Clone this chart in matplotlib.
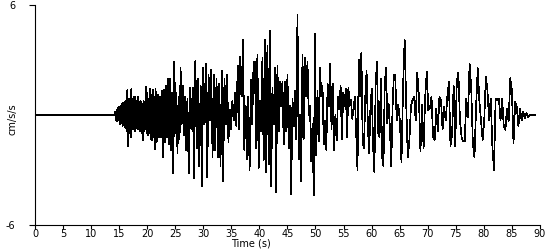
import matplotlib
matplotlib.use("Agg")
import matplotlib.pyplot as plt
import numpy as np

# accelerogram, stored as peak values per time window
quiet = (0.0, 14.3)

seg1a_span = (14.3, 21.5)
seg1a = [0.2, -0.3, 0.3, -0.35, 0.4, -0.3, 0.45, -0.5, 0.5, -0.45,
         0.6, -0.6, 0.65, -0.55, 0.7, -0.7, 0.8, -0.9, 1.35, -1.7,
         0.9, -1.0, 0.8, -1.2, 1.45, -0.8, 0.9, -0.8, 1.0, -0.9,
         1.0, -0.7, 0.8, -0.8, 1.0, -0.75, 0.7, -0.9, 0.75, -1.0,
         0.6, -1.35, 0.8, -0.9, 0.7, -0.8, 1.55, -1.0, 1.2, -1.1,
         0.9, -1.0, 1.45, -1.3, 1.1, -1.4, 1.4, -1.2, 1.0, -1.85]

seg1b_span = (21.5, 26.7)
seg1b = [1.45, -1.5, 1.1, -1.2, 1.0, -1.2, 1.3, -2.3, 1.4, -1.5,
         1.6, -1.2, 2.0, -1.6, 2.0, -1.9, 1.2, -3.2, 2.9, -1.0,
         1.2, -2.1, 1.0, -1.3, 2.55, -0.5, 1.6, -1.1]

seg2_span = (26.7, 39.2)
seg2 = [1.0, -1.9, 0.9, -3.2, 1.5, -0.8, 1.5, -3.45, 2.96, -1.8,
        2.0, -2.8, 1.6, -3.9, 2.6, -0.5, 2.8, -3.4, 2.2, -0.3,
        2.45, -2.3, 2.2, -1.9, 2.0, -2.3, 1.7, -2.8, 2.4, -3.6,
        2.0, -0.5, 2.2, -1.5, 0.3, -0.8, 0.8, -0.3, 1.2, -0.6,
        2.7, -0.8, 3.2, 1.0, 4.1, -1.9, 0.5, -2.4, 1.0, -3.0,
        1.9, -0.5, 2.9]

seg3_span = (39.2, 51.7)
seg3 = [2.9, -1.8, 3.3, -2.9, 0.8, -0.9, 3.1, -2.45, 4.1, -3.1,
        3.8, -2.7, 4.6, -3.9, 1.5, -0.5, 2.55, -4.2, 2.7, -0.9,
        1.8, 0.5, 1.8, -1.6, 1.8, -0.9, 2.2, -1.8, 0.5, -4.3,
        0.9, -0.6, 1.3, -1.3, 5.45, -2.4, 0.0, -3.6, 3.3, -1.3,
        3.1, 1.0, 2.9, 0.0, 0.5, -2.5, -0.5, -4.4, 4.45, -2.2,
        1.3, -1.45, 2.55, 1.0, 1.6, -1.6]

seg4_span = (51.7, 64.2)
seg4 = [-0.3, -1.9, 1.7, 0.5, 2.8, -0.8, 1.7, -1.9, 0.0, -1.4,
        1.0, 0.3, 1.6, -1.3, 1.2, 0.5, 1.45, -1.2, 1.5, 0.5,
        0.8, -0.2, 0.4, 1.0, -1.0, -3.0, 3.0, 1.0, 3.4, -1.5,
        -1.8, 1.0, 2.4, -0.6, -2.1, 0.5, 1.45, -1.7, -3.1, 1.7,
        2.9, -1.0, -1.2, 2.0, -2.3, -2.8, 1.7, 2.55, -0.45, 0.6,
        -0.8, -2.8, 0.4, 2.2]

seg5_span = (64.2, 76.6)
seg5 = [2.2, -0.3, 0.55, -0.3, -2.6, 1.5, 4.1, 0.6, -2.3, -1.4,
        0.5, 0.8, 1.0, -0.3, 2.3, 1.1, -2.0, 0.55, -1.8, 1.0,
        2.36, 0.27, 0.36, 1.0, -1.2, -1.36, 0.36, -0.9, 1.0, 0.8,
        -0.8, 0.45, -0.3, 1.0, 1.8, -1.7, -1.1, 1.6, -1.7, 1.8,
        2.3, -0.3, -1.2, -1.45]

seg6_span = (76.6, 88.2)
seg6 = [-1.45, 0.9, -0.1, 2.8, 1.45, -1.55, -2.3, 0.45, 2.55, 0.8,
        -0.3, -1.36, -0.3, 2.1, 1.3, -0.3, 0.9, -1.7, -3.0, 0.9,
        0.8, 0.9, -0.3, 0.9, -0.6, -0.8, 0.36, -0.36, 2.0, 1.36,
        -1.55, 0.7, 0.45, -0.6, 0.36, -0.3, 0.18, -0.18, 0.1, -0.1]

tail = (88.2, 89.1)

segments = [(seg1a_span, seg1a), (seg1b_span, seg1b), (seg2_span, seg2),
            (seg3_span, seg3), (seg4_span, seg4), (seg5_span, seg5),
            (seg6_span, seg6)]

t = [quiet[0], quiet[1]]
a = [0.0, 0.0]
for (t0, t1), vals in segments:
    t.extend(np.linspace(t0, t1, len(vals), endpoint=False))
    a.extend(vals)
t += [tail[0], tail[1]]
a += [0.0, 0.0]

plt.rcParams['font.family'] = 'DejaVu Sans'
plt.rcParams['axes.unicode_minus'] = False
fig = plt.figure(figsize=(5.5, 2.5), dpi=100)
ax = fig.add_axes([0.0636, 0.1, 0.918, 0.88])

ax.plot(t, a, color='black', lw=0.5, antialiased=False)
ax.plot(quiet, [0, 0], color='black', lw=1.2, antialiased=False)

ax.set_xlim(0, 90)
ax.set_ylim(-6, 6)
ax.set_xticks(np.arange(0, 91, 5))
ax.set_yticks([-6, 6])
ax.spines['top'].set_visible(False)
ax.spines['right'].set_visible(False)
ax.spines['left'].set_linewidth(0.8)
ax.spines['bottom'].set_linewidth(0.8)
ax.tick_params(axis='x', labelsize=7, length=3, width=0.8, pad=0)
ax.tick_params(axis='y', labelsize=7, length=4, width=0.8, pad=10)
ax.set_xlabel('Time (s)', fontsize=7)
ax.xaxis.set_label_coords(0.427, -0.083)
ax.xaxis.label.set_va('center')
ax.set_ylabel('cm/s/s', fontsize=7)
ax.yaxis.set_label_coords(-0.045, 0.48)
ax.yaxis.label.set_va('center')

fig.savefig('out.png', dpi=100)
